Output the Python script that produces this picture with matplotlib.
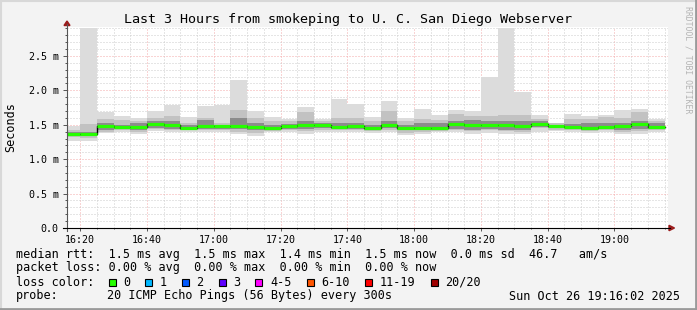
import numpy as np
import pandas as pd
import matplotlib
matplotlib.use("Agg")
import matplotlib.pyplot as plt
import matplotlib.dates as mdates
from matplotlib.patches import Rectangle, Polygon
from matplotlib.lines import Line2D
from matplotlib.ticker import MultipleLocator, FuncFormatter

# data (milliseconds), one bar per 5 minute step
title = "Last 3 Hours from smokeping to U. C. San Diego Webserver"
bar_start = pd.date_range("2025-10-26 16:15", periods=36, freq="5min")
rtt_max = [1.48, 2.90, 1.68, 1.62, 1.60, 1.70, 1.79, 1.61, 1.77, 1.79, 2.15, 1.70,
           1.61, 1.59, 1.76, 1.59, 1.88, 1.80, 1.61, 1.85, 1.60, 1.73, 1.64, 1.72,
           1.70, 2.20, 2.90, 1.98, 1.64, 1.53, 1.66, 1.63, 1.64, 1.71, 1.73, 1.59]
rtt_hi = [1.42, 1.51, 1.59, 1.57, 1.55, 1.60, 1.62, 1.52, 1.60, 1.52, 1.71, 1.60,
          1.55, 1.56, 1.69, 1.55, 1.60, 1.60, 1.55, 1.70, 1.55, 1.59, 1.57, 1.66,
          1.62, 1.62, 1.64, 1.64, 1.58, 1.52, 1.58, 1.58, 1.61, 1.60, 1.68, 1.56]
core_hi = [1.40, 1.40, 1.53, 1.50, 1.52, 1.56, 1.55, 1.49, 1.57, 1.50, 1.60, 1.53,
           1.50, 1.51, 1.56, 1.52, 1.53, 1.53, 1.50, 1.55, 1.50, 1.52, 1.52, 1.55,
           1.57, 1.55, 1.56, 1.55, 1.55, 1.50, 1.51, 1.52, 1.53, 1.53, 1.56, 1.52]
rtt_med = [1.37, 1.36, 1.48, 1.47, 1.47, 1.505, 1.49, 1.45, 1.48, 1.48, 1.48, 1.47,
           1.45, 1.48, 1.50, 1.49, 1.47, 1.48, 1.46, 1.50, 1.46, 1.45, 1.45, 1.51,
           1.49, 1.49, 1.49, 1.48, 1.51, 1.48, 1.47, 1.45, 1.47, 1.48, 1.51, 1.47]
core_lo = [1.34, 1.33, 1.43, 1.44, 1.43, 1.46, 1.44, 1.43, 1.44, 1.44, 1.44, 1.42,
           1.43, 1.44, 1.44, 1.45, 1.44, 1.44, 1.43, 1.45, 1.42, 1.42, 1.43, 1.44,
           1.43, 1.44, 1.43, 1.42, 1.47, 1.45, 1.45, 1.43, 1.44, 1.43, 1.44, 1.44]
rtt_lo = [1.32, 1.31, 1.40, 1.42, 1.40, 1.44, 1.42, 1.42, 1.42, 1.42, 1.40, 1.38,
          1.41, 1.42, 1.41, 1.43, 1.42, 1.42, 1.41, 1.43, 1.38, 1.40, 1.41, 1.42,
          1.41, 1.42, 1.41, 1.40, 1.45, 1.43, 1.43, 1.41, 1.42, 1.40, 1.41, 1.43]
rtt_min = [1.27, 1.27, 1.38, 1.39, 1.37, 1.41, 1.40, 1.40, 1.39, 1.40, 1.37, 1.34,
           1.40, 1.39, 1.37, 1.40, 1.40, 1.39, 1.38, 1.39, 1.35, 1.37, 1.39, 1.39,
           1.37, 1.38, 1.37, 1.36, 1.40, 1.41, 1.39, 1.38, 1.39, 1.36, 1.37, 1.40]

loss_labels = ["0", "1", "2", "3", "4-5", "6-10", "11-19", "20/20"]
loss_colors = ["#26ff00", "#00b8ff", "#0059ff", "#5e00ff", "#ff00ff", "#ff5500",
               "#ff0000", "#a00000"]

legend_lines = [
    "median rtt:  1.5 ms avg  1.5 ms max  1.4 ms min  1.5 ms now  0.0 ms sd  46.7   am/s",
    "packet loss: 0.00 % avg  0.00 % max  0.00 % min  0.00 % now",
]
probe_text = "20 ICMP Echo Pings (56 Bytes) every 300s"
stamp_text = "Sun Oct 26 19:16:02 2025"

W, H = 697, 310
MONO = "DejaVu Sans Mono"


def fx(x):
    return x / W


def fy(y):
    return 1 - y / H


fig = plt.figure(figsize=(W / 100, H / 100), dpi=100, facecolor="#f3f3f3")
ax = fig.add_axes([fx(67), fy(228), fx(668) - fx(67), fy(27) - fy(228)])
ax.set_facecolor("white")

t_start = pd.Timestamp("2025-10-26 16:16:02")
t_end = pd.Timestamp("2025-10-26 19:16:02")
ax.set_xlim(mdates.date2num(t_start), mdates.date2num(t_end))
ax.set_ylim(0, 2.92)

x0 = mdates.date2num(bar_start)
width = 5 / 1440.0

# smoke layers
mx, hi, ch, md, cl, lo, mn = map(np.array, (rtt_max, rtt_hi, core_hi, rtt_med,
                                            core_lo, rtt_lo, rtt_min))
ax.bar(x0, mx - mn, bottom=mn, width=width, align="edge", color="#dcdcdc",
       linewidth=0, zorder=2)
ax.bar(x0, hi - lo, bottom=lo, width=width, align="edge", color="#c2c2c2",
       linewidth=0, zorder=2.1)
ax.bar(x0, ch - cl, bottom=cl, width=width, align="edge", color="#8c8c8c",
       linewidth=0, zorder=2.2)

# median: black step + loss coloured segments
edges = np.append(x0, x0[-1] + width)
ax.step(edges, np.append(md, md[-1]), where="post", color="black", lw=1.0,
        zorder=3)
ax.hlines(md, x0, x0 + width, colors=loss_colors[0], lw=2.3, zorder=3.1)

# grid
ax.yaxis.set_major_locator(MultipleLocator(0.5))
ax.yaxis.set_minor_locator(MultipleLocator(0.1))
ax.xaxis.set_major_locator(mdates.MinuteLocator(byminute=[0, 20, 40]))
ax.xaxis.set_minor_locator(mdates.MinuteLocator(byminute=range(0, 60, 5)))
ax.xaxis.set_major_formatter(mdates.DateFormatter("%H:%M"))
ax.yaxis.set_major_formatter(FuncFormatter(lambda v, p: "0.0" if v == 0 else f"{v:.1f} m"))
ax.set_axisbelow(True)
ax.grid(which="minor", color="#cdcdcd", lw=0.72, linestyle=(0, (1, 2)), zorder=0)
ax.grid(which="major", color="#f4aaaa", lw=0.72, linestyle=(0, (1, 2)), zorder=0.5)

for s in ax.spines.values():
    s.set_visible(False)
ax.tick_params(axis="both", which="both", colors="#555555", labelcolor="black",
               labelsize=7.2, width=0.7)
ax.tick_params(axis="y", which="major", length=3, pad=3)
ax.tick_params(axis="y", which="minor", length=1.5)
ax.tick_params(axis="x", which="major", length=2, pad=3)
ax.tick_params(axis="x", which="minor", length=1)
for lab in ax.get_xticklabels() + ax.get_yticklabels():
    lab.set_family(MONO)

# axis lines and arrows (figure pixel space)
fig.add_artist(Line2D([fx(67), fx(67)], [fy(231), fy(24)], color="#555555", lw=0.8))
fig.add_artist(Line2D([fx(63), fx(670)], [fy(228), fy(228)], color="black", lw=0.8))
fig.add_artist(Polygon([(fx(64), fy(25.5)), (fx(70), fy(25.5)), (fx(67), fy(21))],
                       closed=True, color="#9b1c1c", transform=fig.transFigure))
fig.add_artist(Polygon([(fx(669), fy(225.3)), (fx(669), fy(230.7)), (fx(674.5), fy(228))],
                       closed=True, color="#9b1c1c", transform=fig.transFigure))

# texts
fig.text(fx(348), fy(19), title, family=MONO, fontsize=9.6, ha="center", va="center")
fig.text(fx(11), fy(127), "Seconds", family=MONO, fontsize=8.5, rotation=90,
         ha="center", va="center")
fig.text(fx(688), fy(6), "RRDTOOL / TOBI OETIKER", family=MONO, fontsize=5.9,
         rotation=270, ha="center", va="top", color="#b4b4b4")

rows = [254.7, 268, 282.3, 296]
for y, line in zip(rows[:2], legend_lines):
    fig.text(fx(16), fy(y), line, family=MONO, fontsize=8.5, va="center")
fig.text(fx(16), fy(rows[2]), "loss color:", family=MONO, fontsize=8.5, va="center")
box_x = [108.7, 145.3, 182, 218.7, 255.3, 306.7, 365.3, 430.7]
for bx, lab, col in zip(box_x, loss_labels, loss_colors):
    fig.add_artist(Rectangle((fx(bx), fy(rows[2] + 3.5)), 7 / W, 7 / H,
                             facecolor=col, edgecolor="black", lw=0.8,
                             transform=fig.transFigure))
    fig.text(fx(bx + 14.6), fy(rows[2]), lab, family=MONO, fontsize=8.5, va="center")
fig.text(fx(16), fy(rows[3]), "probe:", family=MONO, fontsize=8.5, va="center")
fig.text(fx(107.3), fy(rows[3]), probe_text, family=MONO, fontsize=8.5, va="center")
fig.text(fx(680), fy(rows[3]), stamp_text, family=MONO, fontsize=8.5, va="center",
         ha="right")

# frame of the canvas
fig.add_artist(Line2D([0, 1], [fy(0.5), fy(0.5)], color="#d8d8d8", lw=1.5))
fig.add_artist(Line2D([fx(0.5), fx(0.5)], [0, 1], color="#d8d8d8", lw=1.5))
fig.add_artist(Line2D([0, 1], [fy(309), fy(309)], color="#9a9a9a", lw=2))
fig.add_artist(Line2D([fx(696), fx(696)], [0, 1], color="#9a9a9a", lw=2))

fig.savefig("out.png", dpi=100, facecolor=fig.get_facecolor())
